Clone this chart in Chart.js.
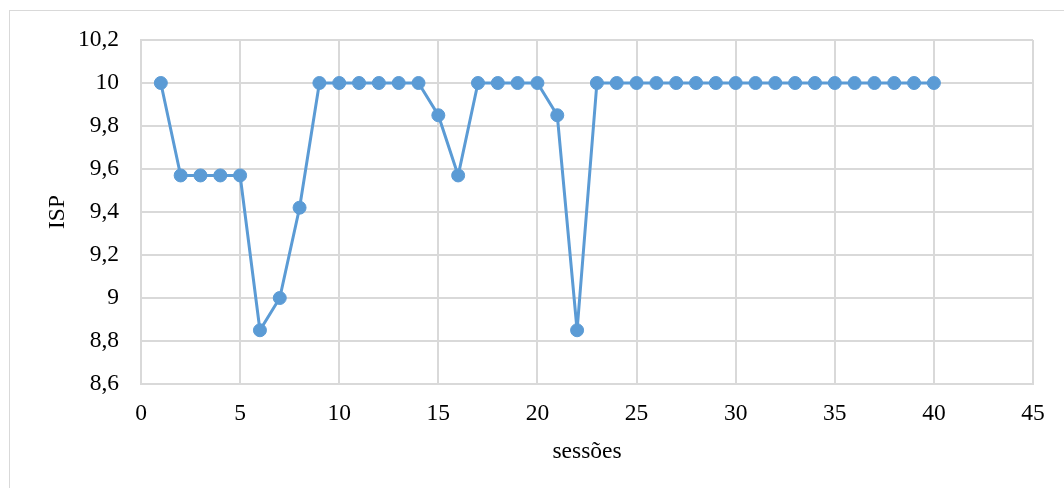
<!DOCTYPE html>
<html>
<head>
<meta charset="utf-8">
<script src="https://cdn.jsdelivr.net/npm/chart.js@4"></script>
<style>
  html, body { margin: 0; padding: 0; background: #fff; overflow: hidden; }
  #wrap { position: relative; width: 1064px; height: 488px; }
  #frame { position: absolute; left: 9px; top: 10px; width: 1200px; height: 600px; border: 1px solid #d9d9d9; }
  canvas { position: absolute; left: 0; top: 0; }
</style>
</head>
<body>
<div id="wrap">
  <div id="frame"></div>
  <canvas id="chart" width="1064" height="488"></canvas>
</div>
<script>
// session numbers and ISP values
const sessoes = [1, 2, 3, 4, 5, 6, 7, 8, 9, 10, 11, 12, 13, 14, 15, 16, 17, 18, 19, 20,
  21, 22, 23, 24, 25, 26, 27, 28, 29, 30, 31, 32, 33, 34, 35, 36, 37, 38, 39, 40];
const isp = [10, 9.57, 9.57, 9.57, 9.57, 8.85, 9.0, 9.42, 10, 10, 10, 10, 10, 10, 9.85, 9.57, 10, 10, 10, 10,
  9.85, 8.85, 10, 10, 10, 10, 10, 10, 10, 10, 10, 10, 10, 10, 10, 10, 10, 10, 10, 10];

const gridColor = '#d9d9d9';
const fontSpec = { family: '"Liberation Serif", "Times New Roman", serif', size: 23.5 };

// decimal comma like the original
function fmt(v) {
  return String(Math.round(v * 10) / 10).replace('.', ',');
}

const points = sessoes.map((s, i) => ({ x: s, y: isp[i] }));

new Chart(document.getElementById('chart').getContext('2d'), {
  type: 'line',
  data: {
    datasets: [{
      label: 'ISP',
      data: points,
      borderColor: '#5b9bd5',
      backgroundColor: '#5b9bd5',
      borderWidth: 3,
      pointRadius: 6.5,
      pointBorderWidth: 1,
      pointBackgroundColor: '#5b9bd5',
      pointBorderColor: '#5b9bd5',
      tension: 0
    }]
  },
  options: {
    responsive: false,
    animation: false,
    layout: { padding: { top: 40, right: 31, bottom: 0, left: 0 } },
    scales: {
      x: {
        type: 'linear',
        min: 0,
        max: 45,
        ticks: { stepSize: 5, color: '#000', font: fontSpec, padding: 16, maxRotation: 0 },
        grid: { color: gridColor, lineWidth: 2, drawTicks: false },
        border: { color: gridColor, width: 2 },
        title: { display: true, text: 'sessões', color: '#000', font: fontSpec, padding: { top: 0, bottom: 22 } },
        afterFit: function(scale) { scale.height = 104; }
      },
      y: {
        min: 8.6,
        max: 10.2,
        ticks: { stepSize: 0.2, color: '#000', font: fontSpec, padding: 22, callback: v => fmt(v) },
        grid: { color: gridColor, lineWidth: 2, drawTicks: false },
        border: { color: gridColor, width: 2 },
        title: { display: true, text: 'ISP', color: '#000', font: fontSpec, padding: { top: 44, bottom: 0 } },
        afterFit: function(scale) { scale.width = 141; }
      }
    },
    plugins: {
      legend: { display: false },
      tooltip: { enabled: false }
    }
  }
});
</script>
</body>
</html>
